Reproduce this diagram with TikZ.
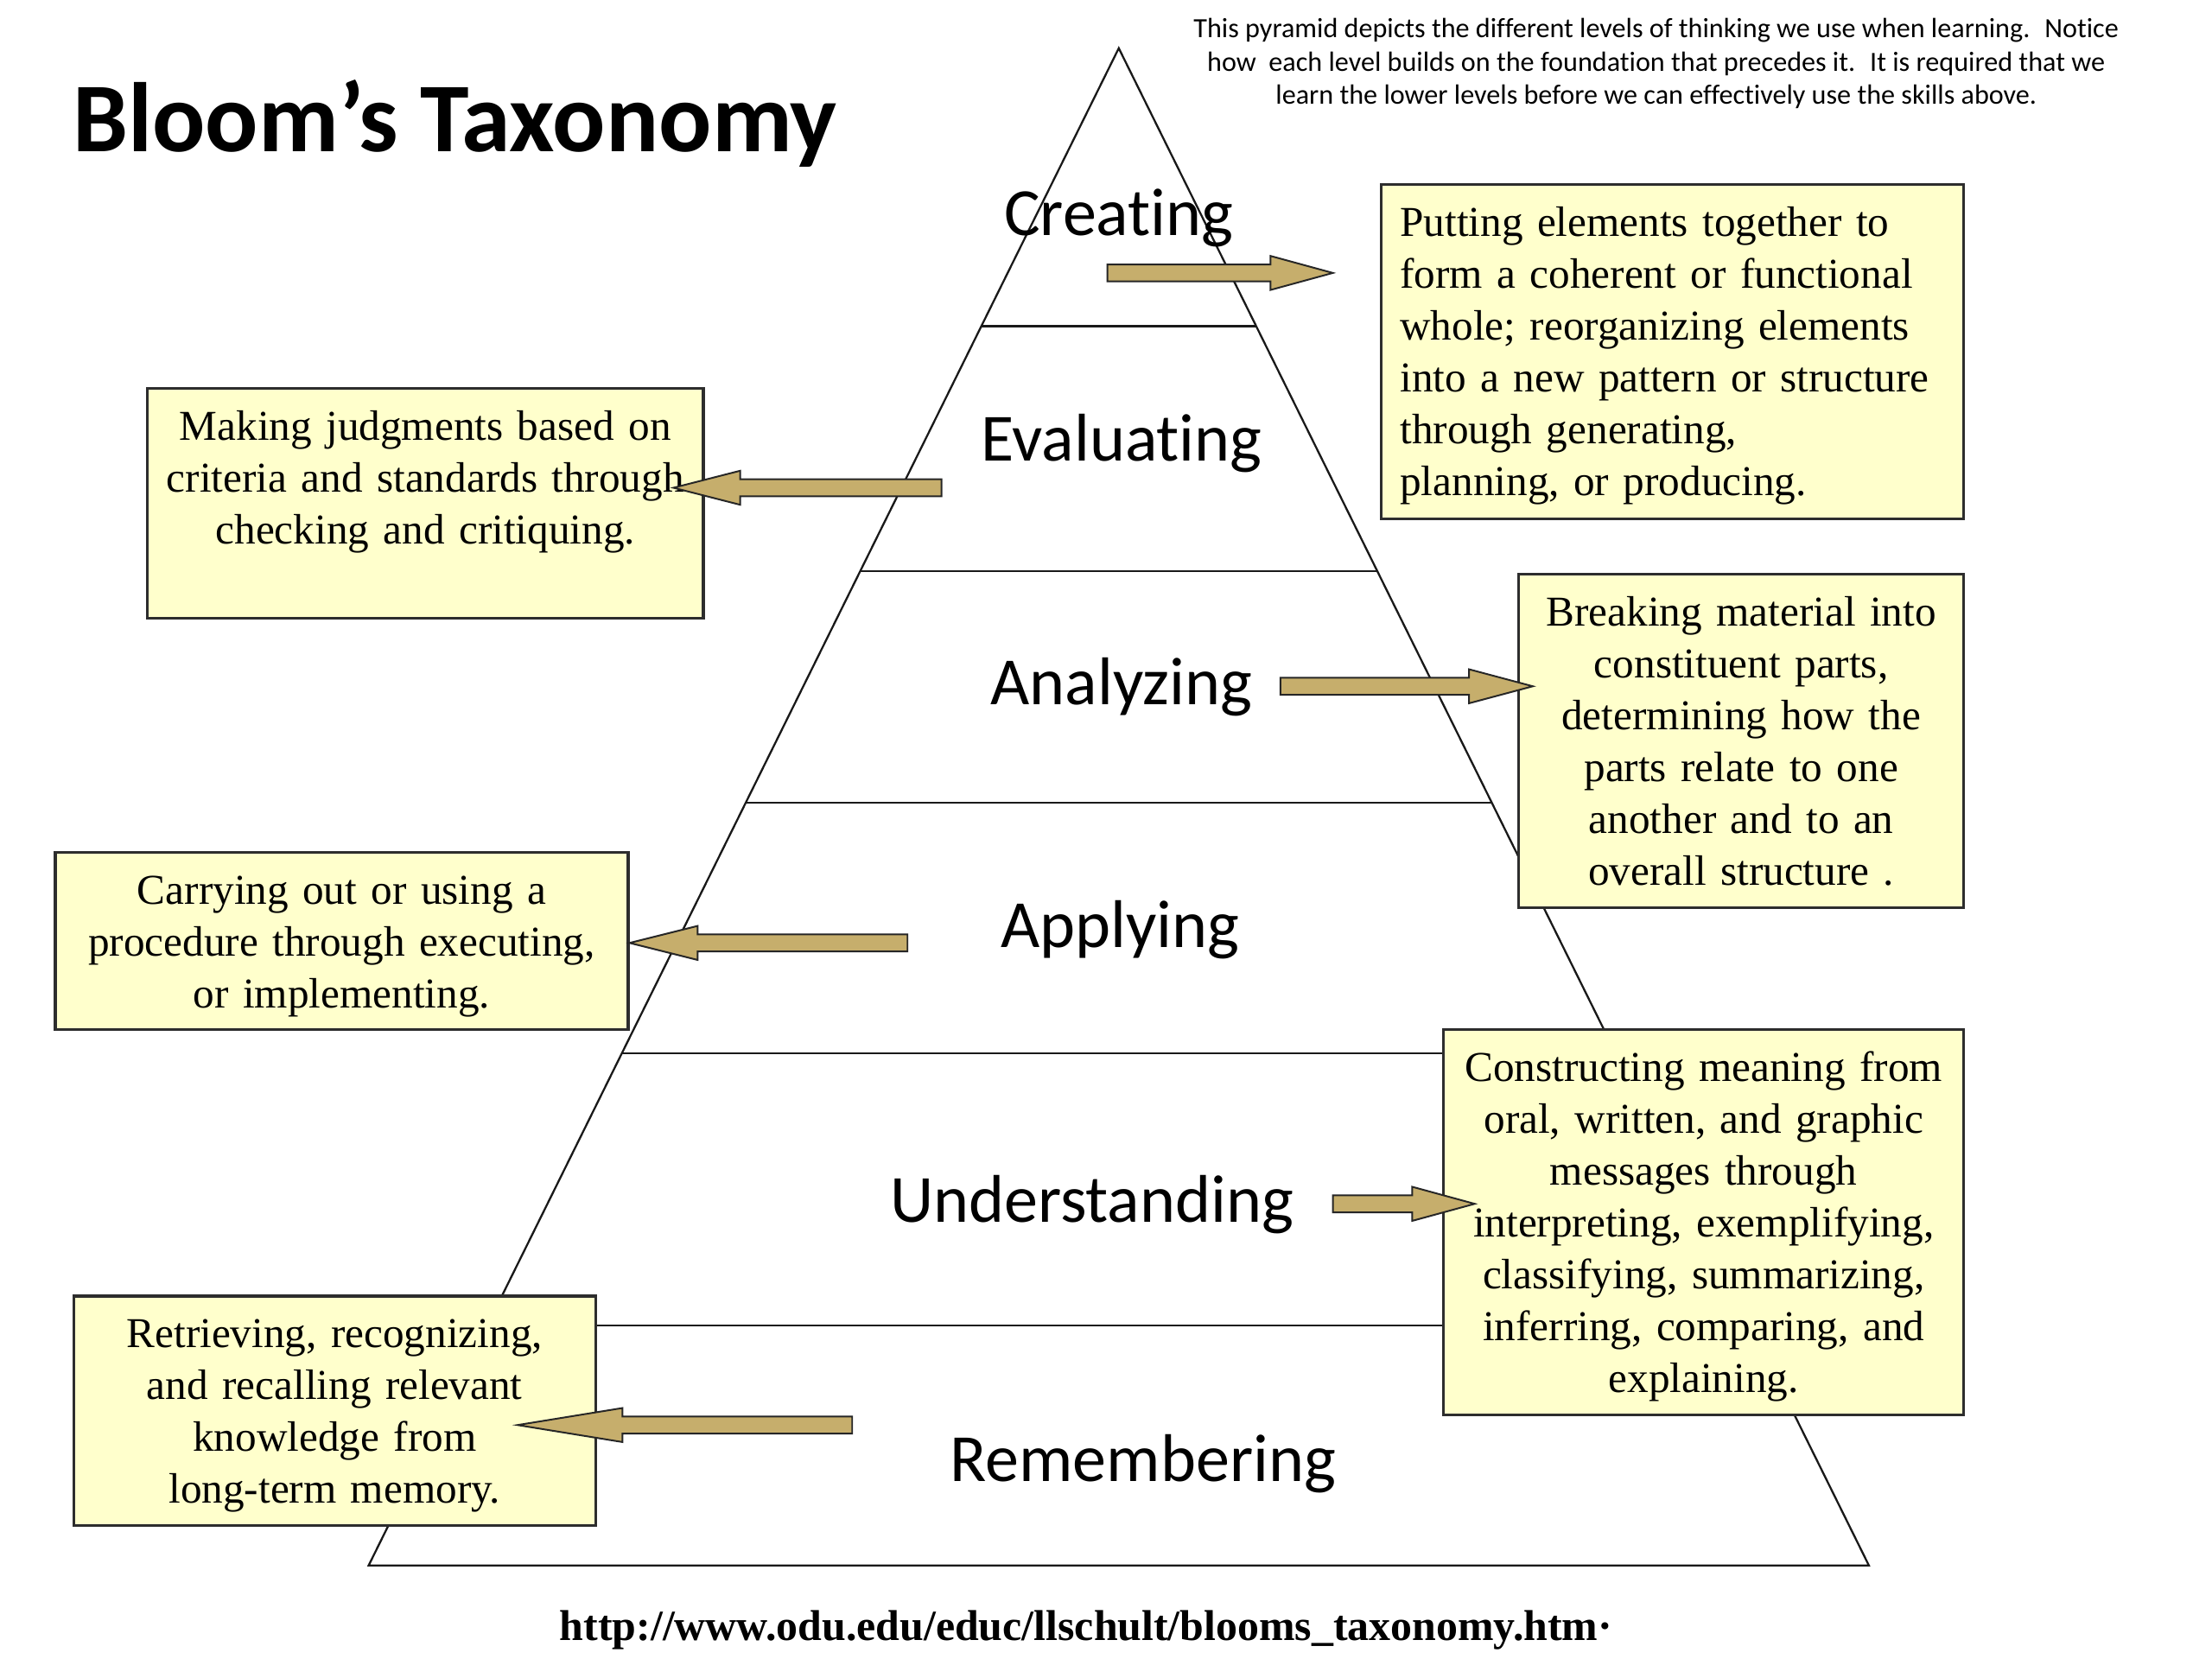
\documentclass[tikz,border=0pt]{standalone}
\usepackage{fontspec}
\setmainfont{Liberation Serif}
\newfontfamily\calibri{Carlito}[Ligatures=NoCommon]
\usetikzlibrary{calc}
\definecolor{boxfill}{RGB}{255,255,204}
\definecolor{boxline}{RGB}{45,45,45}
\definecolor{arrowtan}{RGB}{198,174,108}
% block arrow: #1 tail, #2 tip, #3 head length
\newcommand\blockarrow[3]{%
  \draw[barrow] ($(#1)+(0,-6)$) -- ($(#2)!#3!(#1)+(0,-6)$) -- ($(#2)!#3!(#1)+(0,-12)$)
    -- (#2) -- ($(#2)!#3!(#1)+(0,12)$) -- ($(#2)!#3!(#1)+(0,6)$) -- ($(#1)+(0,6)$) -- cycle;}
\begin{document}
\begin{tikzpicture}[x=0.5pt,y=-0.5pt,
  pyr/.style={draw=black!90, line width=0.7pt},
  lvl/.style={font=\calibri\fontsize{23.8}{28}\selectfont, inner sep=0pt},
  descbox/.style 2 args={draw=boxline, fill=boxfill, line width=1pt,
      minimum width=#1*0.5pt, minimum height=#2*0.5pt, inner sep=0pt},
  desc/.style={font=\fontsize{15}{18.3}\selectfont, inner sep=0pt},
  barrow/.style={draw=black!85, fill=arrowtan, line width=0.6pt, line join=miter}]
\fill[white] (0,0) rectangle (1560,1170);
\useasboundingbox (0,0) rectangle (1560,1170);

% title and notes
\node[anchor=base west, inner sep=0pt, font=\calibri\bfseries\fontsize{34.8}{40}\selectfont] (title) at (51,107) {Bloom’s Taxonomy};
\node[align=center, inner sep=0pt, font=\calibri\fontsize{9.8}{11.75}\selectfont] (note) at (1168,45)
  {This pyramid depicts the different levels of thinking we use when learning.~ Notice\\
   how~ each level builds on the foundation that precedes it.~ It is required that we\\
   learn the lower levels before we can effectively use the skills above.};
\node[anchor=base, inner sep=0pt, font=\bfseries\fontsize{15.2}{18}\selectfont] (url) at (766,1157)
  {http://www.odu.edu/educ/llschult/blooms\_taxonomy.htm·};

% pyramid
\coordinate (apex) at (789,34);
\coordinate (bl) at (260,1104);
\coordinate (br) at (1318,1104);
\draw[pyr] (apex) -- (bl) -- (br) -- cycle;
\foreach \yy [count=\i] in {230,403,566,743,935} {
  \coordinate (L\i) at ($(apex)!{(\yy-34)/1070}!(bl)$);
  \coordinate (R\i) at ($(apex)!{(\yy-34)/1070}!(br)$);
  \draw[pyr] (L\i) -- (R\i);
}

% level labels
\node[lvl, anchor=base] (creating) at (789,166) {Creating};
\node[lvl, anchor=base] (evaluating) at (791,325) {Evaluating};
\node[lvl, anchor=base] (analyzing) at (791,497) {Analyzing};
\node[lvl, anchor=base] (applying) at (790,668) {Applying};
\node[lvl, anchor=base] (understanding) at (770,862) {Understanding};
\node[lvl, anchor=base] (remembering) at (806,1045) {Remembering};

% description boxes
\node[descbox={411}{236}] (b1) at (1179.5,248) {};
\node[descbox={392}{162}] (b2) at (300,355) {};
\node[descbox={314}{235}] (b3) at (1228,522.5) {};
\node[descbox={404}{125}] (b4) at (241,663.5) {};
\node[descbox={367}{272}] (b5) at (1201.5,862) {};
\node[descbox={368}{162}] (b6) at (236,995) {};

\node[desc, anchor=north west, align=left, text width=200pt] (t1) at ([xshift=7pt,yshift=-5.7pt]b1.north west)
  {\strut Putting elements together to\\ form a coherent or functional\\ whole; reorganizing elements\\ into a new pattern or structure\\ through generating,\\ planning, or producing.};
\node[desc, anchor=north, align=center, text width=194pt] (t2) at ([yshift=-5.7pt]b2.north)
  {\strut Making judgments based on\\ criteria and standards through\\ checking and critiquing.};
\node[desc, anchor=north, align=center, text width=155pt] (t3) at ([yshift=-5.7pt]b3.north)
  {\strut Breaking material into\\ constituent parts,\\ determining how the\\ parts relate to one\\ another and to an\\ overall structure .};
\node[desc, anchor=north, align=center, text width=200pt] (t4) at ([yshift=-5.7pt]b4.north)
  {\strut Carrying out or using a\\ procedure through executing,\\ or implementing.};
\node[desc, anchor=north, align=center, text width=182pt] (t5) at ([yshift=-5.7pt]b5.north)
  {\strut Constructing meaning from\\ oral, written, and graphic\\ messages through\\ interpreting, exemplifying,\\ classifying, summarizing,\\ inferring, comparing, and\\ explaining.};
\node[desc, anchor=north, align=center, text width=182pt] (t6) at ([yshift=-5.7pt]b6.north)
  {\strut Retrieving, recognizing,\\ and recalling relevant\\ knowledge from\\ long-term memory.};

% arrows
\coordinate (a1t) at (781,192.5);  \coordinate (a1h) at (940,192.5);
\coordinate (a2t) at (664,344);    \coordinate (a2h) at (475,344);
\coordinate (a3t) at (903,484);    \coordinate (a3h) at (1081,484);
\coordinate (a4t) at (640,665);    \coordinate (a4h) at (444,665);
\coordinate (a5t) at (940,849);    \coordinate (a5h) at (1040,849);
\coordinate (a6t) at (601,1005);   \coordinate (a6h) at (365,1005);
\blockarrow{a1t}{a1h}{22pt}
\blockarrow{a2t}{a2h}{23.5pt}
\blockarrow{a3t}{a3h}{22.5pt}
\blockarrow{a4t}{a4h}{24pt}
\blockarrow{a5t}{a5h}{22pt}
\blockarrow{a6t}{a6h}{37pt}
\end{tikzpicture}
\end{document}
